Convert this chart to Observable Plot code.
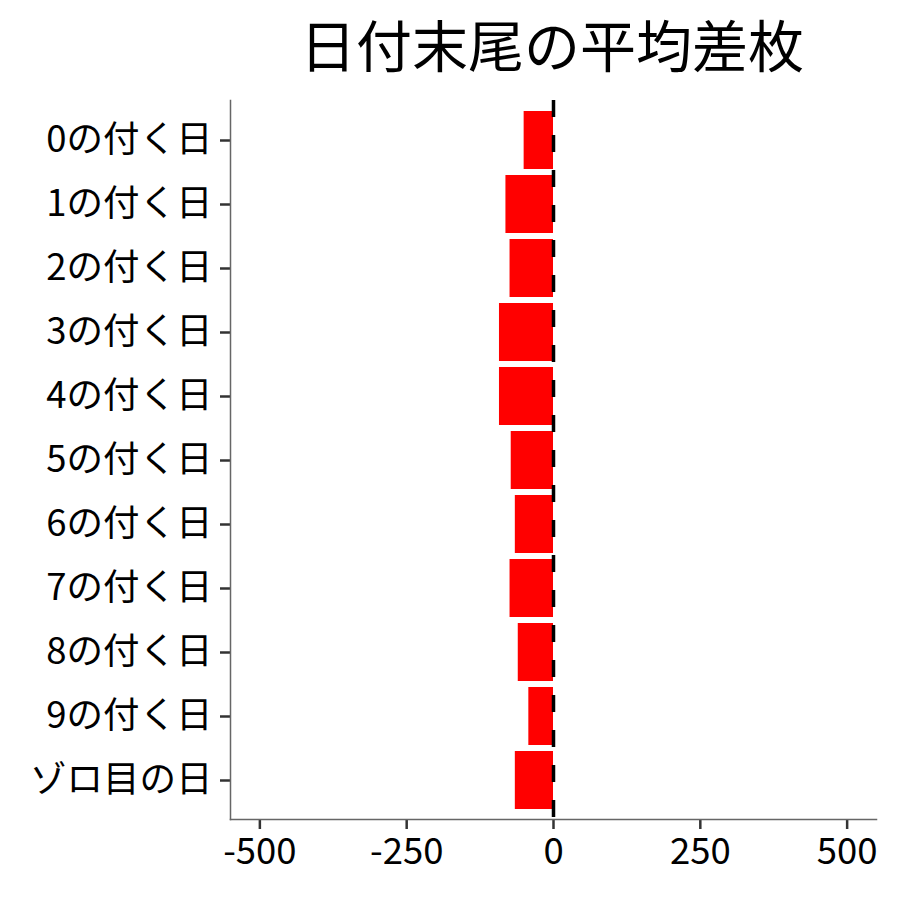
<!DOCTYPE html>
<html><head><meta charset="utf-8">
<script src="https://cdn.jsdelivr.net/npm/d3@7"></script>
<script src="https://cdn.jsdelivr.net/npm/@observablehq/plot@0.6"></script>
<style>
body{margin:0;background:#fff;font-family:"Noto Sans CJK JP",sans-serif;}
#title{height:90px;width:900px;position:relative;}
#title span{position:absolute;left:552px;top:42px;transform:translate(-50%,-50%);font-size:56px;color:#000;white-space:nowrap;}
</style></head>
<body>
<div id="title"><span>日付末尾の平均差枚</span></div>
<div id="chart"></div>
<script>
const categories = ["0の付く日","1の付く日","2の付く日","3の付く日","4の付く日","5の付く日","6の付く日","7の付く日","8の付く日","9の付く日","ゾロ目の日"];
const values = [-50,-81,-74,-92,-92,-72,-65,-74,-60,-42,-65];
const xTicks = [-500,-250,0,250,500];

const data = categories.map((c,i)=>({cat:c, v:values[i]}));

const chart = Plot.plot({
  width: 900,
  height: 810,
  marginTop: 10,
  marginBottom: 81,
  marginLeft: 230,
  marginRight: 24,
  style: {fontFamily: '"Noto Sans CJK JP", sans-serif', fontSize: "36.5px", color: "#000", background: "#fff"},
  x: {domain: [-550, 550], ticks: xTicks, label: null},
  y: {domain: categories, label: null, paddingInner: 0.1, paddingOuter: 0.15},
  marks: [
    Plot.barX(data, {x: "v", y: "cat", fill: "red"}),
    Plot.ruleX([0], {stroke: "#000", strokeWidth: 3.5, strokeDasharray: "17,18"}),
    Plot.axisX({ticks: xTicks, tickSize: 10, tickPadding: 9, stroke: "#333", strokeWidth: 2.5, fontSize: 36.5, label: null, tickFormat: d => d < 0 ? "-" + Math.abs(d) : String(d)}),
    Plot.axisY({tickSize: 10, tickPadding: 8, stroke: "#333", strokeWidth: 2.5, fontSize: 36.5, label: null}),
    Plot.frame({anchor: "bottom", stroke: "#666", strokeWidth: 1.5}),
    Plot.frame({anchor: "left", stroke: "#666", strokeWidth: 1.5})
  ]
});
document.getElementById("chart").appendChild(chart);
</script>
</body></html>
